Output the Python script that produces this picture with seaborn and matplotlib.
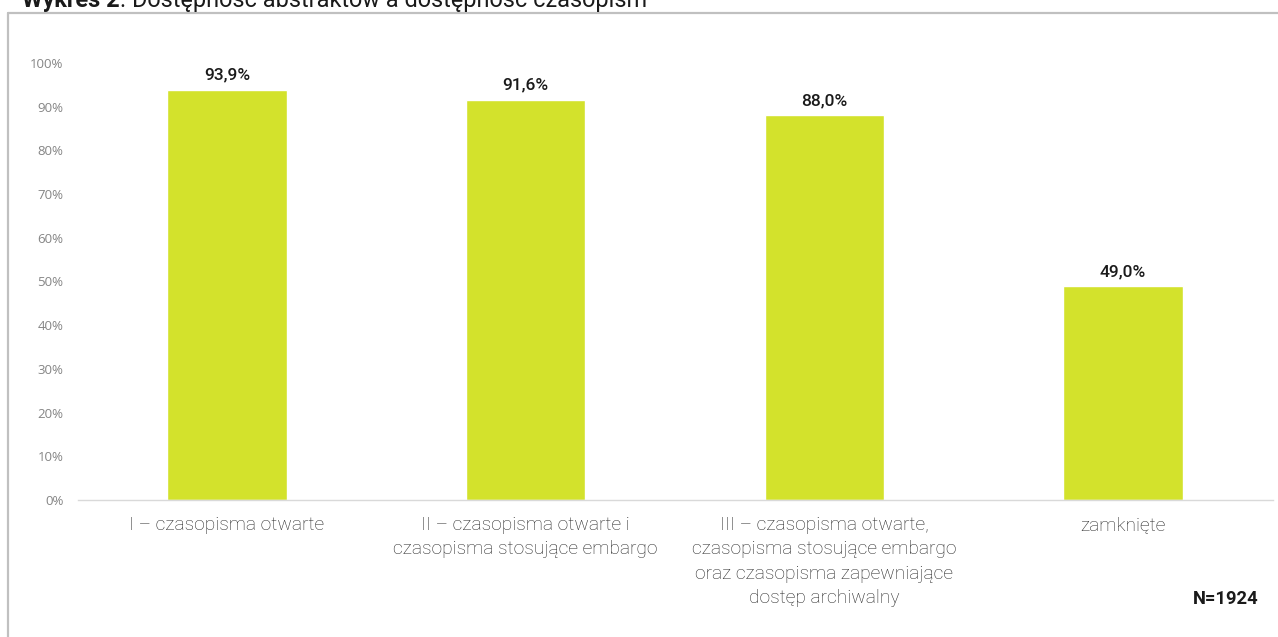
import matplotlib.pyplot as plt
import seaborn as sns
import pandas as pd

# Data
categories = [
    "I – czasopisma otwarte",
    "II – czasopisma otwarte i\nczasopisma stosujące embargo",
    "III – czasopisma otwarte,\nczasopisma stosujące embargo\noraz czasopisma zapewniające\ndostęp archiwalny",
    "zamknięte",
]
values = [93.9, 91.6, 88.0, 49.0]
yticks = [0, 10, 20, 30, 40, 50, 60, 70, 80, 90, 100]

df = pd.DataFrame({"kategoria": categories, "udzial": values})

sns.set_theme(style="white")
plt.rcParams['font.family'] = ['Roboto', 'DejaVu Sans']

fig = plt.figure(figsize=(12.78, 6.37), dpi=100)
ax = fig.add_axes([77.5 / 1278, 1 - 500 / 637, 1195 / 1278, 437 / 637])

sns.barplot(data=df, x="kategoria", y="udzial", color="#d3e22c",
            width=0.4, saturation=1, ax=ax)

ax.set_ylim(0, 100)
ax.set_xlim(-0.5, 3.5)
ax.set_yticks(yticks)
ax.set_yticklabels([f"{t}%" for t in yticks], fontsize=9.5, color="#858585",
                   family=['Open Sans', 'DejaVu Sans'])
ax.tick_params(axis='y', length=0, pad=10)
ax.tick_params(axis='x', length=0, pad=11.5)
for lab in ax.get_xticklabels():
    lab.set_fontsize(13.8)
    lab.set_fontweight('light')
    lab.set_color("#262626")
    lab.set_linespacing(1.45)
ax.set_xlabel("")
ax.set_ylabel("")

for side in ["top", "right", "left"]:
    ax.spines[side].set_visible(False)
ax.spines["bottom"].set_color("#d9d9d9")
ax.spines["bottom"].set_linewidth(1)

# value labels
ax.bar_label(ax.containers[0],
             labels=[f"{v:.1f}%".replace(".", ",") for v in values],
             padding=5, fontsize=12.5, fontweight='medium', color="#1a1a1a")

# frame around the chart
frame_col = "#c0c0c0"
top_y = 1 - 13 / 637
left_x = 8 / 1278
fig.add_artist(plt.Line2D([left_x, 1], [top_y, top_y], color=frame_col,
                          linewidth=1.6, transform=fig.transFigure))
fig.add_artist(plt.Line2D([left_x, left_x], [0, top_y], color=frame_col,
                          linewidth=1.6, transform=fig.transFigure))

# title (cut at the top edge, as in the source)
t1 = fig.text(22 / 1278, 1 - 7 / 637, "Wykres 2", fontsize=16.9, fontweight='bold',
              color="#1a1a1a", va='baseline', ha='left')
fig.canvas.draw()
bb = t1.get_window_extent()
fig.text(bb.x1 / fig.bbox.width, 1 - 7 / 637,
         ". Dostępność abstraktów a dostępność czasopism",
         fontsize=16.9, color="#1a1a1a", va='baseline', ha='left')

fig.text(1259 / 1278, 1 - 604 / 637, "N=1924", fontsize=13.2, fontweight='bold',
         color="#1a1a1a", ha='right', va='baseline')

fig.savefig("out.png", dpi=100)
